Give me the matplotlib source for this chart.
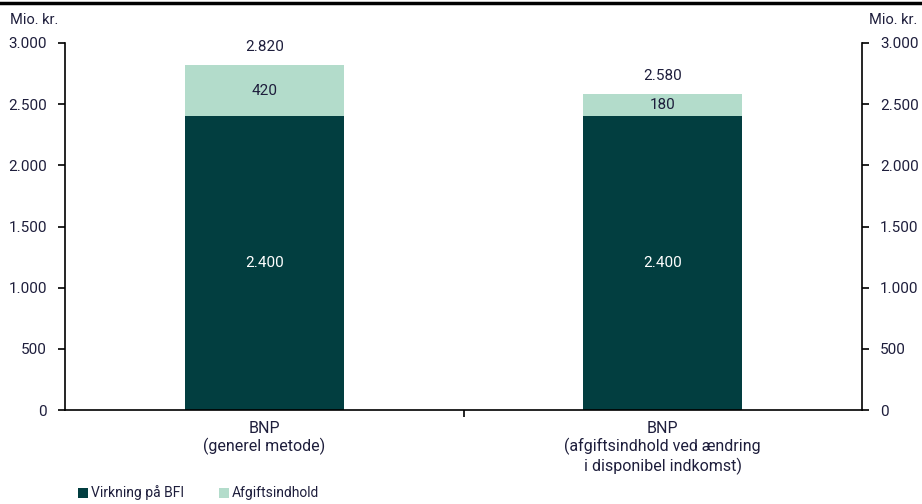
import matplotlib.pyplot as plt
import numpy as np

plt.rcParams['font.family'] = ['Roboto', 'DejaVu Sans']

categories = ['BNP\n(generel metode)', 'BNP\n(afgiftsindhold ved ændring\ni disponibel indkomst)']
bfi = [2400, 2400]
afgift = [420, 180]
yticks = [0, 500, 1000, 1500, 2000, 2500, 3000]

dark = '#023e40'
light = '#b3dccb'
txt = '#1e1e3c'

def fmt(v):
    return f'{v:,.0f}'.replace(',', '.')

fig = plt.figure(figsize=(9.22, 5.04), dpi=100)
ax = fig.add_axes([65 / 922, 1 - 410 / 504, 797 / 922, 367 / 504])
x = np.arange(len(categories))
ax.bar(x, bfi, width=0.4, color=dark, label='Virkning på BFI')
ax.bar(x, afgift, width=0.4, bottom=bfi, color=light, label='Afgiftsindhold')

for i in range(len(x)):
    ax.text(x[i], bfi[i] / 2, fmt(bfi[i]), ha='center', va='center', color='white', fontsize=11)
    ax.text(x[i], bfi[i] + afgift[i] / 2, fmt(afgift[i]), ha='center', va='center', color=txt, fontsize=11)
    total = bfi[i] + afgift[i]
    ax.text(x[i], total + 150, fmt(total), ha='center', va='center', color=txt, fontsize=11)

ax.set_xlim(-0.5, 1.5)
ax.set_ylim(0, 3000)
ax.set_yticks(yticks)
ax.set_yticklabels([fmt(v) for v in yticks])
ax.set_xticks(x)
ax.set_xticklabels(categories, color=txt, fontsize=11.5, linespacing=1.15)
ax.set_xticks([0.5], minor=True)
ax.tick_params(axis='x', which='major', length=0, pad=8)
ax.tick_params(axis='x', which='minor', length=5, width=1.2, direction='out')
ax.tick_params(axis='y', length=5, width=1.2, colors='black', labelcolor=txt, labelsize=11, pad=8)
ax.tick_params(axis='y', right=True, labelright=True)
ax.spines['top'].set_visible(False)
for s in ['left', 'right', 'bottom']:
    ax.spines[s].set_linewidth(1.2)

fig.text(10 / 922, 1 - 20 / 504, 'Mio. kr.', ha='left', va='center', color=txt, fontsize=10.5)
fig.text(917 / 922, 1 - 20 / 504, 'Mio. kr.', ha='right', va='center', color=txt, fontsize=10.5)
fig.add_artist(plt.Line2D([0, 1], [1 - 3 / 504, 1 - 3 / 504], color='black', linewidth=2.5))

leg = fig.legend(loc='center left', bbox_to_anchor=(72 / 922, 1 - 493 / 504), ncol=2, frameon=False,
                 handlelength=0.75, handleheight=0.75, handletextpad=0.2, columnspacing=2.5,
                 fontsize=10, borderaxespad=0)
for t in leg.get_texts():
    t.set_color(txt)

fig.savefig('out.png', dpi=100)
